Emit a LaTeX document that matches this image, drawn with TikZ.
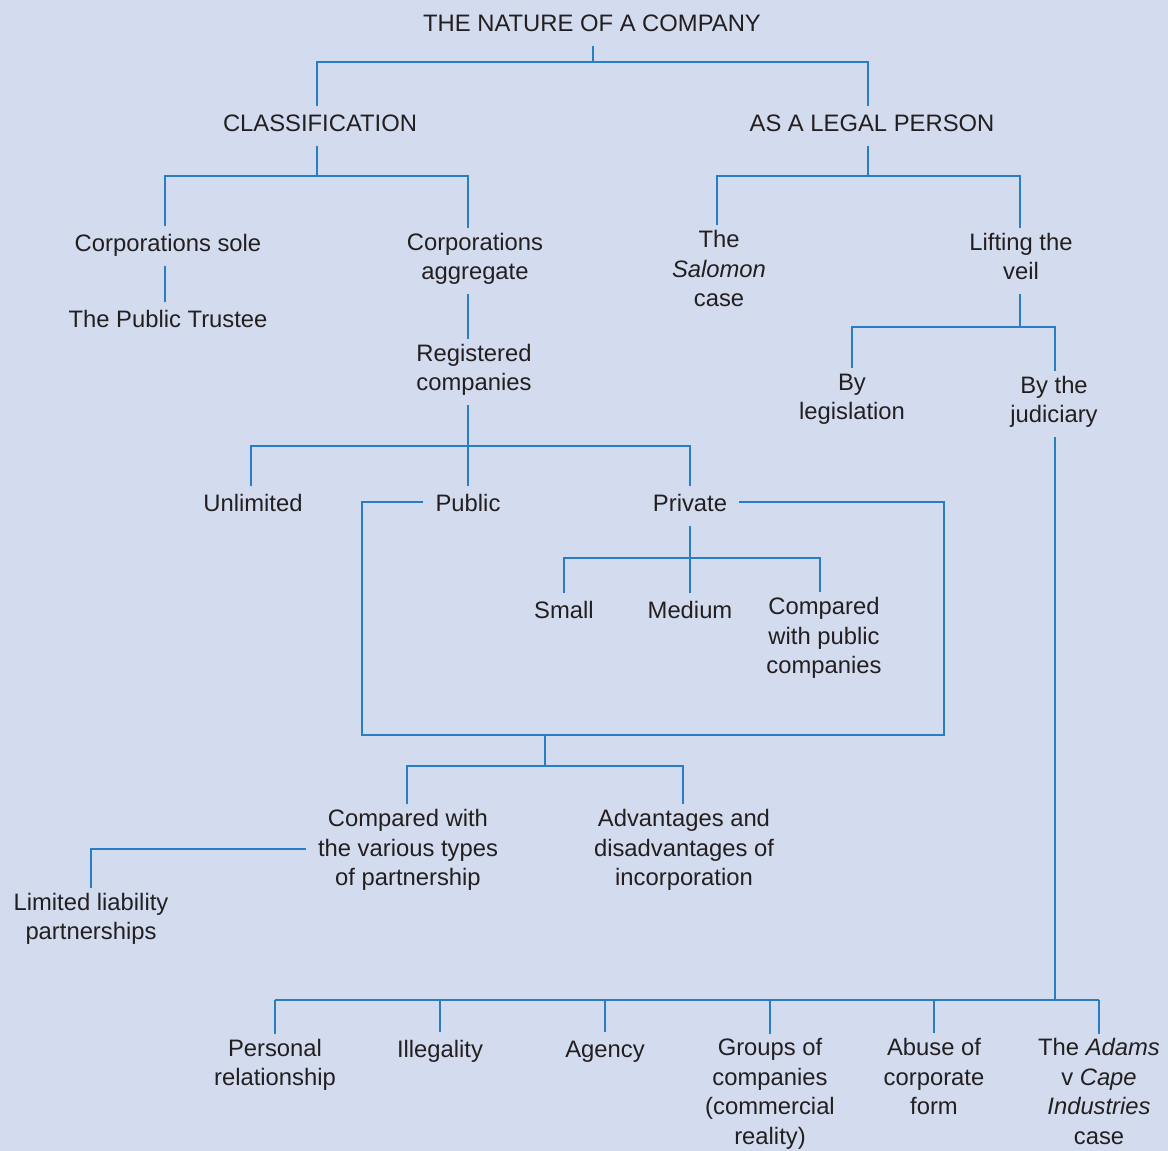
\documentclass[tikz,border=0pt]{standalone}
\usepackage{fontspec}
\setmainfont{Liberation Sans}
\definecolor{bg}{HTML}{D3DCEE}
\definecolor{lineblue}{HTML}{2A7DC1}
\definecolor{txt}{HTML}{231F20}
\begin{document}
\begin{tikzpicture}[x=1pt,y=-1pt,
  lbl/.style={align=center, font=\fontsize{23.8}{29.5}\selectfont, text=txt,
    inner xsep=12pt, inner ysep=5pt,
    execute at begin node=\strut, execute at end node=\strut},
  conn/.style={draw=lineblue, line width=1.6pt}]
\fill[bg] (0,0) rectangle (1168,1151);
\useasboundingbox (0,0) rectangle (1168,1151);

% nodes
\node[lbl] (nature) at (592,26) {THE NATURE OF A COMPANY};
\node[lbl] (class) at (320,126) {CLASSIFICATION};
\node[lbl] (legal) at (872,126) {AS A LEGAL PERSON};
\node[lbl] (csole) at (168,246) {Corporations sole};
\node[lbl] (trustee) at (168,322) {The Public Trustee};
\node[lbl] (cagg) at (475,261) {Corporations\\aggregate};
\node[lbl] (reg) at (474,372) {Registered\\companies};
\node[lbl] (salomon) at (719,273) {The\\\textit{Salomon}\\case};
\node[lbl] (lift) at (1021,261) {Lifting the\\veil};
\node[lbl] (bylegis) at (852,401) {By\\legislation};
\node[lbl] (byjud) at (1054,404) {By the\\judiciary};
\node[lbl] (unlim) at (253,506) {Unlimited};
\node[lbl] (public) at (468,506) {Public};
\node[lbl] (private) at (690,506) {Private};
\node[lbl] (small) at (564,613) {Small};
\node[lbl] (medium) at (690,613) {Medium};
\node[lbl] (cmppub) at (824,640) {Compared\\with public\\companies};
\node[lbl] (cmppart) at (408,852) {Compared with\\the various types\\of partnership};
\node[lbl] (adv) at (684,852) {Advantages and\\disadvantages of\\incorporation};
\node[lbl] (llp) at (91,921) {Limited liability\\partnerships};
\node[lbl] (personal) at (275,1067) {Personal\\relationship};
\node[lbl] (illeg) at (440,1052) {Illegality};
\node[lbl] (agency) at (605,1052) {Agency};
\node[lbl] (groups) at (770,1096) {Groups of\\companies\\(commercial\\reality)};
\node[lbl] (abuse) at (934,1081) {Abuse of\\corporate\\form};
\node[lbl] (adams) at (1099,1096) {The \textit{Adams}\\v \textit{Cape}\\\textit{Industries}\\case};

% junction coordinates
\coordinate (j0) at (593,62);
\coordinate (c0L) at (317,62);
\coordinate (c0R) at (868,62);
\coordinate (j1) at (317,176);
\coordinate (c1L) at (165,176);
\coordinate (c1R) at (468,176);
\coordinate (j2) at (868,176);
\coordinate (c2L) at (717,176);
\coordinate (c2R) at (1020,176);
\coordinate (j3) at (468,446);
\coordinate (c3L) at (251,446);
\coordinate (c3R) at (690,446);
\coordinate (j4) at (690,558);
\coordinate (c4L) at (564,558);
\coordinate (c4R) at (820,558);
\coordinate (b1) at (362,735);
\coordinate (b2) at (944,735);
\coordinate (j5) at (545,735);
\coordinate (c5) at (545,766);
\coordinate (c5L) at (407,766);
\coordinate (c5R) at (683,766);
\coordinate (j7) at (1020,327);
\coordinate (c7L) at (852,327);
\coordinate (c7R) at (1055,327);
\coordinate (j8) at (1055,1000);

% connectors
\draw[conn] (j0 |- nature.south) -- (j0);
\draw[conn] (c0L |- class.north) -- (c0L) -- (c0R) -- (c0R |- legal.north);

\draw[conn] (j1 |- class.south) -- (j1);
\draw[conn] (c1L |- csole.north) -- (c1L) -- (c1R) -- (c1R |- cagg.north);
\draw[conn] (c1L |- csole.south) -- (c1L |- trustee.north);
\draw[conn] (c1R |- cagg.south) -- (c1R |- reg.north);

\draw[conn] (j3 |- reg.south) -- (j3 |- public.north);
\draw[conn] (c3L |- unlim.north) -- (c3L) -- (c3R) -- (c3R |- private.north);

\draw[conn] (j4 |- private.south) -- (j4 |- medium.north);
\draw[conn] (c4L |- small.north) -- (c4L) -- (c4R) -- (c4R |- cmppub.north);

\draw[conn] ([yshift=4pt]public.west) -| (b1) -- (b2) |- ([yshift=4pt]private.east);
\draw[conn] (j5) -- (c5);
\draw[conn] (c5L |- cmppart.north) -- (c5L) -- (c5R) -- (c5R |- adv.north);
\draw[conn] ([yshift=3pt]cmppart.west) -| (llp.north);

\draw[conn] (j2 |- legal.south) -- (j2);
\draw[conn] (c2L |- salomon.north) -- (c2L) -- (c2R) -- (c2R |- lift.north);
\draw[conn] (j7 |- lift.south) -- (j7);
\draw[conn] (c7L |- bylegis.north) -- (c7L) -- (c7R) -- (c7R |- byjud.north);
\draw[conn] (j8 |- byjud.south) -- (j8);
\draw[conn] (personal.north |- j8) -- (adams.north |- j8);
\foreach \n in {personal,illeg,agency,groups,abuse,adams}
  \draw[conn] (\n.north |- j8) -- (\n.north);
\end{tikzpicture}
\end{document}
